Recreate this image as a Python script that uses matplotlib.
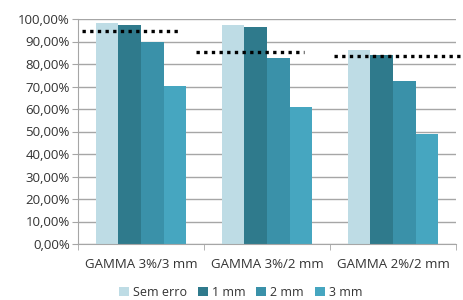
import matplotlib
matplotlib.use('Agg')
import matplotlib.pyplot as plt
from matplotlib.ticker import FuncFormatter, FixedLocator
import numpy as np

plt.rcParams['font.family'] = ['Open Sans', 'DejaVu Sans']

categories = ['GAMMA 3%/3 mm', 'GAMMA 3%/2 mm', 'GAMMA 2%/2 mm']
series_names = ['Sem erro', '1 mm', '2 mm', '3 mm']
sem_erro = [98.2, 97.3, 86.1]
mm1 = [97.3, 96.3, 83.9]
mm2 = [89.6, 82.8, 72.3]
mm3 = [70.1, 61.0, 48.9]
# linhas pontilhadas de referência: (valor, início, fim) em unidades de categoria
ref_values = [94.5, 85.5, 83.6]
ref_start = [-0.47, 0.44, 1.53]
ref_end = [0.29, 1.29, 2.56]

colors = ['#BEDCE5', '#2F7A8C', '#3A91A9', '#46A6C0']

fig = plt.figure(figsize=(4.64, 3.0), dpi=100)
ax = fig.add_axes([78 / 464, 1 - 244 / 300, (456 - 78) / 464, 225 / 300])

x = np.arange(len(categories))
w = 0.18
for i, (vals, name) in enumerate(zip([sem_erro, mm1, mm2, mm3], series_names)):
    ax.bar(x + (i - 1.5) * w, vals, w, color=colors[i], label=name, zorder=2)

for v, a, b in zip(ref_values, ref_start, ref_end):
    ax.plot([a, b], [v, v], color='black', linestyle=(0, (1, 1.3)), linewidth=2.4,
            clip_on=False, zorder=3)

ax.set_xlim(-0.5, 2.5)
ax.set_ylim(0, 100)
ax.set_yticks(np.arange(0, 101, 10))
ax.yaxis.set_major_formatter(FuncFormatter(lambda v, p: f'{v:.2f}%'.replace('.', ',')))
ax.yaxis.grid(True, color='#A6A6A6', linewidth=1, zorder=0)
ax.set_axisbelow(True)

ax.set_xticks(x)
ax.set_xticklabels(categories)
ax.xaxis.set_minor_locator(FixedLocator([-0.5, 0.5, 1.5, 2.5]))
ax.tick_params(axis='x', which='major', length=0, pad=10, labelsize=9.5, colors='#333333')
ax.tick_params(axis='x', which='minor', length=4, color='#A6A6A6')
ax.tick_params(axis='y', length=4, color='#A6A6A6', labelsize=9.5, labelcolor='#333333', pad=2)

for s in ['top', 'right']:
    ax.spines[s].set_visible(False)
ax.spines['left'].set_color('#A6A6A6')
ax.spines['bottom'].set_color('#A6A6A6')

ax.legend(loc='center', bbox_to_anchor=(0.43, -0.215), ncol=4, frameon=False,
          fontsize=9, handlelength=0.8, handleheight=0.8, handletextpad=0.3,
          columnspacing=0.9, labelcolor='#333333', borderpad=0)

fig.savefig('out.png', dpi=100)
